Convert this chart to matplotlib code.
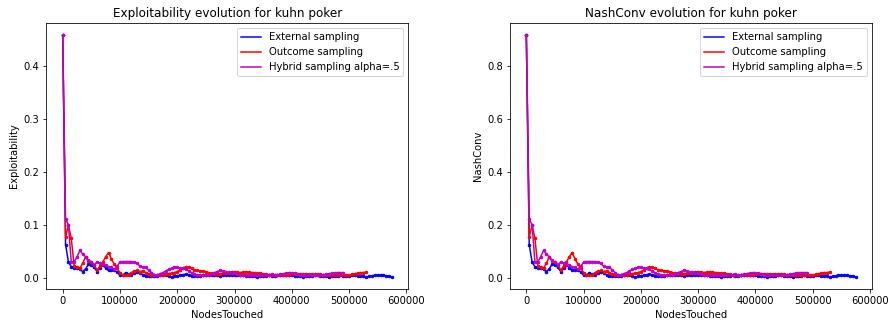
import numpy as np
import matplotlib
matplotlib.use('Agg')
import matplotlib.pyplot as plt

# exploitability, one value every 5000 nodes touched
node_step = 5000

external_expl = [
    0.459, 0.063, 0.030, 0.021, 0.019, 0.018, 0.016, 0.012, 0.017, 0.026,
    0.025, 0.020, 0.012, 0.019, 0.024, 0.019, 0.014, 0.015, 0.015, 0.011,
    0.005, 0.005, 0.010, 0.007, 0.005, 0.010, 0.012, 0.009, 0.006, 0.003,
    0.004, 0.003, 0.003, 0.004, 0.005, 0.006, 0.005, 0.003, 0.002, 0.003,
    0.004, 0.005, 0.006, 0.007, 0.006, 0.004, 0.003, 0.004, 0.004, 0.005,
    0.005, 0.006, 0.006, 0.005, 0.005, 0.004, 0.005, 0.005, 0.006, 0.006,
    0.006, 0.005, 0.006, 0.005, 0.004, 0.004, 0.004, 0.003, 0.002, 0.003,
    0.004, 0.004, 0.005, 0.004, 0.004, 0.005, 0.006, 0.005, 0.005, 0.006,
    0.005, 0.004, 0.003, 0.004, 0.002, 0.003, 0.004, 0.004, 0.005, 0.005,
    0.004, 0.004, 0.003, 0.002, 0.003, 0.003, 0.004, 0.005, 0.004, 0.004,
    0.003, 0.005, 0.005, 0.004, 0.004, 0.003, 0.002, 0.003, 0.004, 0.005,
    0.005, 0.005, 0.005, 0.004, 0.003, 0.002,
]

outcome_expl = [
    0.459, 0.077, 0.100, 0.075, 0.022, 0.020, 0.018, 0.028, 0.040, 0.032,
    0.030, 0.024, 0.015, 0.022, 0.030, 0.040, 0.048, 0.036, 0.026, 0.018,
    0.010, 0.005, 0.005, 0.006, 0.010, 0.013, 0.014, 0.012, 0.013, 0.010,
    0.008, 0.006, 0.005, 0.005, 0.006, 0.005, 0.007, 0.008, 0.009, 0.010,
    0.012, 0.015, 0.018, 0.021, 0.020, 0.018, 0.015, 0.014, 0.013, 0.013,
    0.012, 0.010, 0.009, 0.008, 0.008, 0.008, 0.009, 0.010, 0.010, 0.011,
    0.012, 0.011, 0.010, 0.011, 0.012, 0.011, 0.010, 0.010, 0.009, 0.009,
    0.008, 0.007, 0.006, 0.006, 0.006, 0.005, 0.006, 0.006, 0.006, 0.006,
    0.007, 0.007, 0.008, 0.008, 0.008, 0.008, 0.007, 0.007, 0.008, 0.008,
    0.007, 0.006, 0.006, 0.006, 0.005, 0.005, 0.005, 0.005, 0.005, 0.005,
    0.005, 0.007, 0.008, 0.009, 0.010, 0.010, 0.011,
]

hybrid_expl = [
    0.459, 0.112, 0.100, 0.030, 0.030, 0.040, 0.052, 0.045, 0.040, 0.033,
    0.030, 0.025, 0.030, 0.028, 0.026, 0.025, 0.021, 0.020, 0.016, 0.022,
    0.030, 0.031, 0.031, 0.031, 0.031, 0.030, 0.028, 0.022, 0.021, 0.020,
    0.015, 0.010, 0.006, 0.006, 0.008, 0.010, 0.013, 0.016, 0.018, 0.020,
    0.020, 0.019, 0.018, 0.016, 0.013, 0.010, 0.007, 0.006, 0.005, 0.005,
    0.005, 0.006, 0.008, 0.010, 0.012, 0.014, 0.013, 0.012, 0.011, 0.010,
    0.009, 0.007, 0.006, 0.006, 0.005, 0.005, 0.006, 0.006, 0.005, 0.005,
    0.005, 0.006, 0.006, 0.007, 0.006, 0.006, 0.007, 0.008, 0.009, 0.010,
    0.010, 0.009, 0.008, 0.006, 0.005, 0.005, 0.005, 0.005, 0.006, 0.006,
    0.006, 0.006, 0.007, 0.008, 0.009, 0.010, 0.010, 0.010, 0.010,
]

labels = ['External sampling', 'Outcome sampling', 'Hybrid sampling alpha=.5']
colors = ['b', 'r', 'm']
series = [external_expl, outcome_expl, hybrid_expl]

fig, axs = plt.subplots(1, 2, figsize=(889 / 72, 325 / 72), dpi=72)

for ax, metric in zip(axs, ['Exploitability', 'NashConv']):
    for vals, lab, c in zip(series, labels, colors):
        y = np.array(vals)
        if metric == 'NashConv':
            # two-player game: NashConv = 2 * exploitability
            y = 2 * y
        x = np.arange(len(y)) * node_step
        ax.plot(x, y, color=c, label=lab)
        ax.plot(x, y, '.', color=c, markersize=5)
    ax.set_title(f'{metric} evolution for kuhn poker')
    ax.set_xlabel('NodesTouched')
    ax.set_ylabel(metric)
    ax.legend(loc='upper right')

plt.subplots_adjust(left=0.052, right=0.981, top=0.929, bottom=0.111, wspace=0.28)
fig.savefig('out.png', dpi=72)
